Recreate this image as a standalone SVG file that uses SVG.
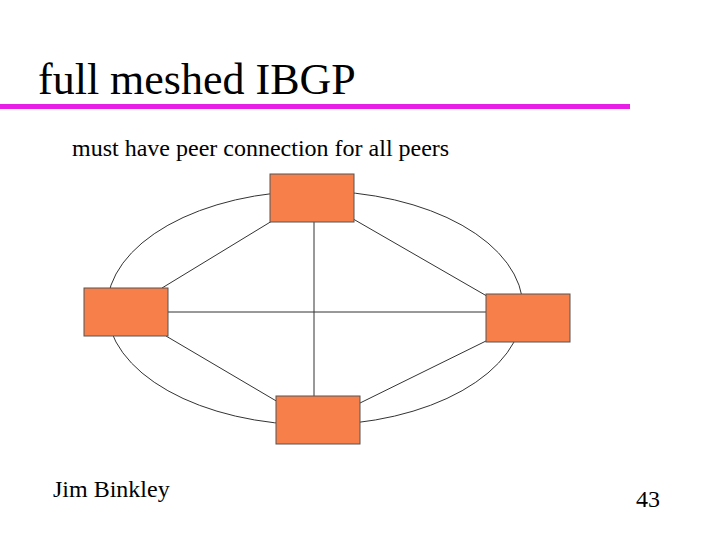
<svg xmlns="http://www.w3.org/2000/svg" width="720" height="540" viewBox="0 0 720 540">
<style>
text{font-family:"Liberation Serif",serif;fill:#000}
.n{fill:#f77f4a;stroke:#555;stroke-width:1}
.c{stroke:#333;stroke-width:1;fill:none}
</style>
<rect width="720" height="540" fill="#fff"/>
<text x="38" y="94" font-size="44">full meshed IBGP</text>
<rect x="0" y="104" width="630" height="5" fill="#e61ee6"/>
<text x="72" y="156" font-size="24">must have peer connection for all peers</text>
<g id="connectors">
<ellipse class="c" cx="315" cy="308" rx="208" ry="117"/>
<line class="c" x1="162" y1="288" x2="272" y2="221"/>
<line class="c" x1="348" y1="216" x2="492" y2="299"/>
<line class="c" x1="314" y1="222" x2="314" y2="396"/>
<line class="c" x1="168" y1="312" x2="486" y2="312"/>
<line class="c" x1="166" y1="336" x2="278" y2="402"/>
<line class="c" x1="358" y1="404" x2="488" y2="340"/>
</g>
<g id="top"><rect class="n" x="270" y="174" width="84" height="48"/></g>
<g id="left"><rect class="n" x="84" y="288" width="84" height="48"/></g>
<g id="right"><rect class="n" x="486" y="294" width="84" height="48"/></g>
<g id="bottom"><rect class="n" x="276" y="396" width="84" height="48"/></g>
<text x="53" y="497" font-size="24">Jim Binkley</text>
<text x="636" y="507" font-size="24">43</text>
</svg>
